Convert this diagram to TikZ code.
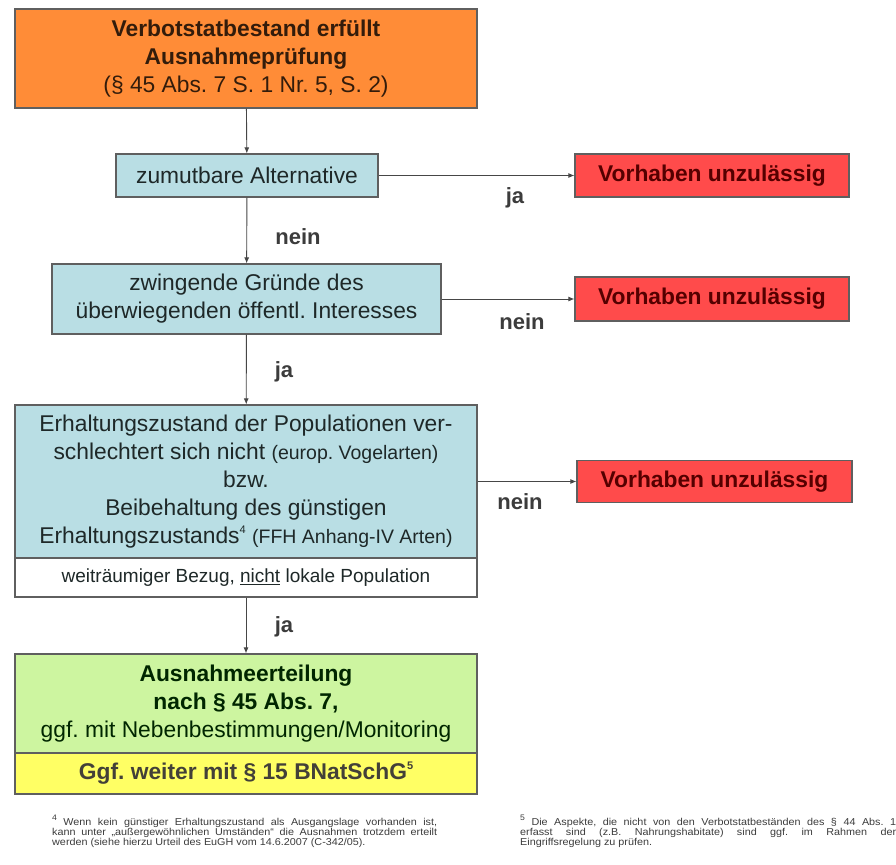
\documentclass[tikz,border=0pt]{standalone}
\usepackage{fontspec}
\setmainfont{Liberation Sans}
\newfontfamily\fussschrift[FakeStretch=1.08]{Liberation Sans}
\usetikzlibrary{arrows.meta}
\definecolor{orangefeld}{RGB}{255,140,55}
\definecolor{blaufeld}{RGB}{185,222,228}
\definecolor{rotfeld}{RGB}{255,75,75}
\definecolor{gruenfeld}{RGB}{205,245,160}
\definecolor{gelbfeld}{RGB}{255,255,100}
\definecolor{rahmen}{RGB}{95,95,95}
\definecolor{linie}{RGB}{70,70,70}
\definecolor{schrift}{RGB}{30,40,40}
\definecolor{rotschrift}{RGB}{85,0,0}
\definecolor{grau}{RGB}{60,60,60}
\newcommand{\hoch}[1]{\raisebox{0.85ex}{\fontsize{11}{11}\selectfont #1}}
\frenchspacing

\begin{document}
\begin{tikzpicture}[x=1pt, y=-1pt,
	kasten/.style={draw=rahmen, line width=1.2pt, align=center, inner sep=0pt, text=schrift, font=\fontsize{22.8}{28}\selectfont},
	verbot/.style={kasten, fill=rotfeld, minimum width=274pt, minimum height=43pt, text=rotschrift, font=\fontsize{22.8}{28}\selectfont\bfseries},
	pfeil/.style={draw=linie, line width=0.9pt, -{Latex[length=6pt,width=5pt]}},
	antwort/.style={inner sep=0pt, text=grau, font=\fontsize{22}{26}\selectfont\bfseries},
	fussnote/.style={anchor=north west, inner sep=0pt, text=grau, text width=385pt, align=justify, font=\fussschrift\fontsize{10}{10}\selectfont},
	]
			%%%%% START %%%%%
			
			\useasboundingbox[fill=white] (0, 0) rectangle (896, 864);
			
			\node[kasten, fill=orangefeld, minimum width=462pt, minimum height=99pt, text=black!80!orangefeld] (start) at (246, 58.5)
				{\textbf{Verbotstatbestand erfüllt}\\\textbf{Ausnahmeprüfung}\\(§ 45 Abs. 7 S. 1 Nr. 5, S. 2)};
			
			\node[kasten, fill=blaufeld, minimum width=262pt, minimum height=43pt] (alternative) at (247, 175.5) {zumutbare Alternative};
			\node[kasten, fill=blaufeld, minimum width=389pt, minimum height=70pt] (gruende) at (246.5, 299)
				{zwingende Gründe des\\überwiegenden öffentl. Interesses};
			\node[kasten, fill=blaufeld, minimum width=462pt, minimum height=153pt] (erhaltung) at (246, 481.5)
				{Erhaltungszustand der Populationen ver-\\schlechtert sich nicht {\fontsize{19.5}{28}\selectfont(europ. Vogelarten)}\\bzw.\\Beibehaltung des günstigen\\Erhaltungszustands\hoch{4} {\fontsize{19.5}{28}\selectfont(FFH Anhang-IV Arten)}};
			\node[kasten, fill=white, minimum width=462pt, minimum height=39pt, font=\fontsize{19}{24}\selectfont] (bezug) at (246, 577.5)
				{weiträumiger Bezug, \underline{nicht} lokale Population};
			
			\node[kasten, fill=gruenfeld, minimum width=462pt, minimum height=99pt, text=black!85!green] (erteilung) at (246, 703.5)
				{\textbf{Ausnahmeerteilung}\\\textbf{nach § 45 Abs. 7,}\\ggf. mit Nebenbestimmungen/Monitoring};
			\node[kasten, fill=gelbfeld, minimum width=462pt, minimum height=41pt, text=black!85!yellow, font=\fontsize{22.8}{28}\selectfont\bfseries] (weiter) at (246, 773.5)
				{Ggf. weiter mit § 15 BNatSchG\hoch{5}};
			
			\node[verbot] (verbot1) at (712, 175.5) {Vorhaben unzulässig};
			\node[verbot, minimum height=44pt] (verbot2) at (712, 299) {Vorhaben unzulässig};
			\node[verbot, minimum width=275pt, minimum height=42pt] (verbot3) at (714.5, 481.5) {Vorhaben unzulässig};
			
			\draw[pfeil] (start) -- (alternative);
			\draw[pfeil] (alternative) -- (gruende);
			\draw[pfeil] (gruende) -- (erhaltung);
			\draw[pfeil] (bezug) -- (erteilung);
			\draw[pfeil] (alternative) -- (verbot1);
			\draw[pfeil] (gruende) -- (verbot2);
			\draw[pfeil] (erhaltung) -- (verbot3);
			
			\node[antwort] (nein1) at (298, 237) {nein};
			\node[antwort] (ja1) at (284, 372) {ja};
			\node[antwort] (ja2) at (284, 627) {ja};
			\node[antwort] (ja3) at (515, 198) {ja};
			\node[antwort] (nein2) at (522, 322) {nein};
			\node[antwort] (nein3) at (520, 502) {nein};
			
			\node[fussnote] (fn4) at (52, 815)
				{\hoch{\fontsize{8}{8}\selectfont 4} Wenn kein günstiger Erhaltungszustand als Ausgangslage vorhanden ist,\linebreak kann unter „außergewöhnlichen Umständen“ die Ausnahmen trotzdem erteilt\linebreak werden (siehe hierzu Urteil des EuGH vom 14.6.2007 (C-342/05).};
			\node[fussnote, text width=376pt] (fn5) at (520, 815)
				{\hoch{\fontsize{8}{8}\selectfont 5} Die Aspekte, die nicht von den Verbotstatbeständen des § 44 Abs. 1\linebreak erfasst sind (z.B. Nahrungshabitate) sind ggf. im Rahmen der\linebreak Eingriffsregelung zu prüfen.};
			
			%%%%% END %%%%%
\end{tikzpicture}
\end{document}
